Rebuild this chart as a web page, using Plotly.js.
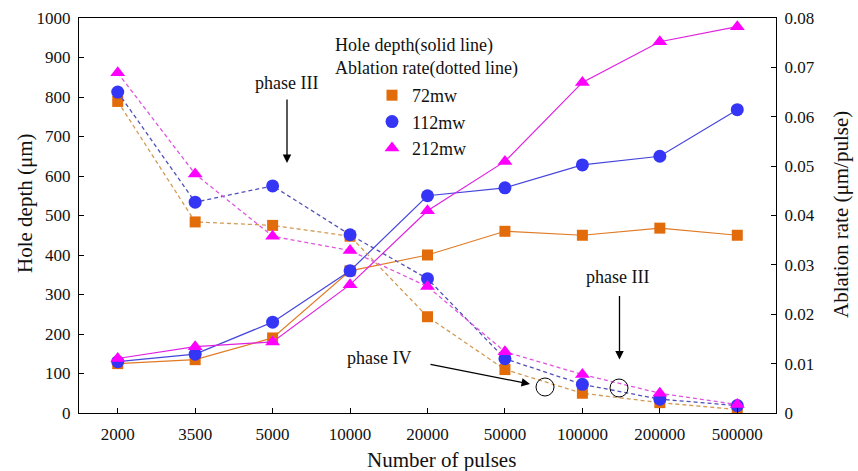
<!DOCTYPE html>
<html><head><meta charset="utf-8">
<script src="https://cdn.plot.ly/plotly-3.0.1.min.js"></script>
<style>body{margin:0;background:#fff}#chart{width:858px;height:471px}</style>
</head><body><div id="chart"></div>
<script>
const pulses = ['2000','3500','5000','10000','20000','50000','100000','200000','500000'];
const seriesNames = ['72mw','112mw','212mw'];
const depth72  = [125, 135, 190, 360, 400, 460, 450, 468, 450];
const depth112 = [130, 149, 230, 360, 550, 570, 628, 650, 768];
const depth212 = [138, 168, 180, 325, 512, 637, 837, 940, 978];
const rate72  = [0.0631, 0.0387, 0.0380, 0.0358, 0.0195, 0.0088, 0.0040, 0.0021, 0.0007];
const rate112 = [0.0650, 0.0427, 0.0460, 0.0361, 0.0272, 0.0110, 0.0058, 0.0028, 0.0015];
const rate212 = [0.0689, 0.0484, 0.0358, 0.0329, 0.0256, 0.0124, 0.0078, 0.0040, 0.0017];

const FONT = 'Liberation Serif';
const styles = [
  {sym:'square', size:11, mc:'#E36C0A', solid:'#E07A25', dash:'#D39A55'},
  {sym:'circle', size:13, mc:'#3535F5', solid:'#4545DD', dash:'#5050B8'},
  {sym:'triangle-up', size:13, mc:'#FF00FF', solid:'#E020E0', dash:'#E055E0'}
];
const depths = [depth72, depth112, depth212];
const rates = [rate72, rate112, rate212];

const traces = [];
for (let i = 0; i < 3; i++) {
  const s = styles[i];
  traces.push({x: pulses, y: rates[i], yaxis: 'y2', type: 'scatter', mode: 'lines+markers',
    line: {color: s.dash, width: 1.3, dash: '4px,3px'},
    marker: {symbol: s.sym, size: s.size, color: s.mc}, showlegend: false, hoverinfo: 'skip'});
}
for (let i = 0; i < 3; i++) {
  const s = styles[i];
  traces.push({x: pulses, y: depths[i], type: 'scatter', mode: 'lines+markers',
    line: {color: s.solid, width: 1.2},
    marker: {symbol: s.sym, size: s.size, color: s.mc}, showlegend: false, hoverinfo: 'skip'});
}
for (let i = 0; i < 3; i++) {
  const s = styles[i];
  traces.push({x: [null], y: [null], type: 'scatter', mode: 'markers', name: seriesNames[i],
    marker: {symbol: s.sym, size: s.size, color: s.mc}, showlegend: true});
}

const W = 697, H = 395, L = 79, T = 18;
const px = X => (X - L) / W;
const py = Y => (T + H - Y) / H;

const annFont = {family: FONT, size: 18, color: '#111'};
const titleFont = {family: FONT, size: 21, color: '#111'};
const txt = (X, Y, t, anchor) => ({xref: 'paper', yref: 'paper', x: px(X), y: py(Y),
  xanchor: anchor || 'center', yanchor: 'middle', text: t, showarrow: false, font: annFont});
const ttl = (X, Y, t, ang) => ({xref: 'paper', yref: 'paper', x: px(X), y: py(Y),
  xanchor: 'center', yanchor: 'middle', text: t, showarrow: false, font: titleFont, textangle: ang});
const arr = (X, Y, ax, ay) => ({xref: 'paper', yref: 'paper', x: px(X), y: py(Y), text: '',
  showarrow: true, ax: ax, ay: ay, arrowhead: 2, arrowsize: 1.3, arrowwidth: 1.3,
  arrowcolor: '#000', standoff: 0, startstandoff: 0});

const layout = {
  width: 858, height: 471,
  margin: {l: 79, r: 82, t: 18, b: 58},
  paper_bgcolor: '#fff', plot_bgcolor: '#fff',
  font: {family: FONT, size: 17, color: '#111'},
  showlegend: true,
  legend: {x: px(372), y: py(77), xanchor: 'left', yanchor: 'top', bgcolor: 'rgba(0,0,0,0)',
    font: {family: FONT, size: 18, color: '#111'}, tracegroupgap: 0, itemwidth: 30},
  xaxis: {type: 'category', categoryorder: 'array', categoryarray: pulses, range: [-0.5, 8.5],
    showline: true, linecolor: '#000', linewidth: 1, mirror: true,
    ticks: 'inside', ticklen: 5, tickcolor: '#000', showgrid: false, zeroline: false,
    ticklabelstandoff: 6, tickfont: {family: FONT, size: 17, color: '#111'}},
  yaxis: {range: [0, 1000], dtick: 100, showline: true, linecolor: '#000', linewidth: 1,
    ticks: 'inside', ticklen: 5, tickcolor: '#000', showgrid: false, zeroline: false,
    ticklabelstandoff: 4, tickfont: {family: FONT, size: 17, color: '#111'}},
  yaxis2: {range: [0, 0.08], dtick: 0.01, overlaying: 'y', side: 'right', showline: true,
    linecolor: '#000', linewidth: 1, ticks: 'inside', ticklen: 5, tickcolor: '#000',
    showgrid: false, zeroline: false, ticklabelstandoff: 4, tickfont: {family: FONT, size: 17, color: '#111'},
    tickformat: '~g'},
  annotations: [
    ttl(442, 460, 'Number of pulses', 0),
    ttl(25, 203, 'Hole depth (μm)', -90),
    ttl(841, 215, 'Ablation rate (μm/pulse)', -90),
    txt(333, 45, 'Hole depth(solid line)', 'left'),
    txt(333, 68, 'Ablation rate(dotted line)', 'left'),
    txt(286, 83, 'phase III'),
    txt(617, 277, 'phase III'),
    txt(379, 358, 'phase IV'),
    arr(287, 163, 0, -65),
    arr(619.5, 359.5, 0, -65),
    arr(530, 384, -101, -20)
  ],
  shapes: [
    {type: 'circle', xref: 'paper', yref: 'paper', x0: px(536), x1: px(554), y0: py(396), y1: py(378),
     line: {color: '#000', width: 1}},
    {type: 'circle', xref: 'paper', yref: 'paper', x0: px(610), x1: px(628), y0: py(397), y1: py(379),
     line: {color: '#000', width: 1}}
  ]
};
Plotly.newPlot('chart', traces, layout, {displayModeBar: false, staticPlot: true});
</script>
</body></html>
